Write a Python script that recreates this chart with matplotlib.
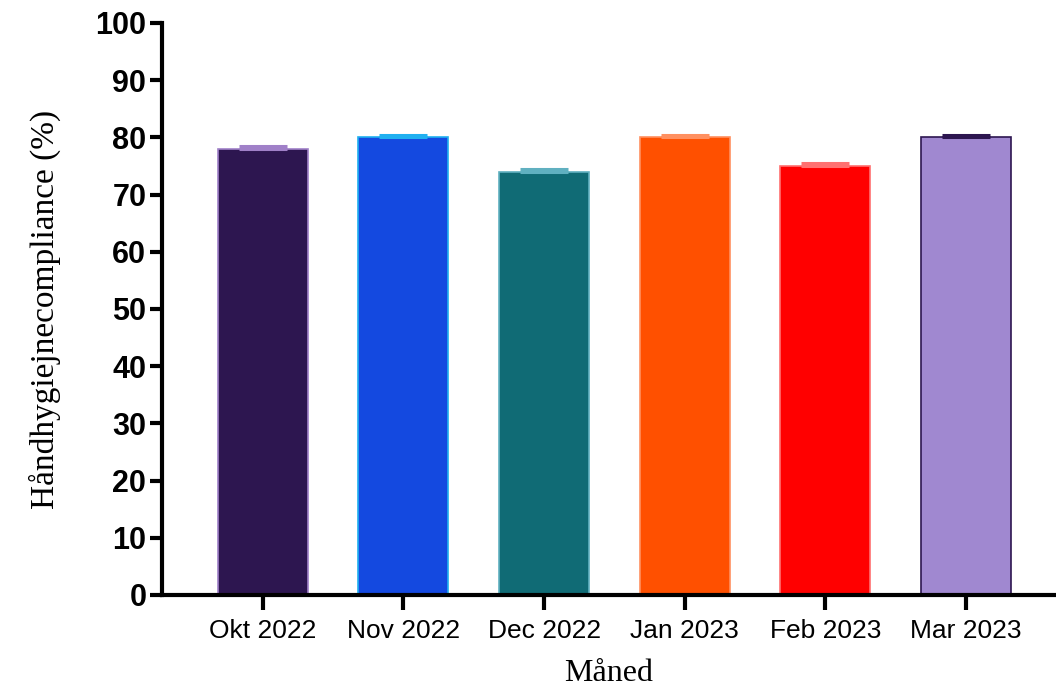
import matplotlib.pyplot as plt
import numpy as np

# Data
maaneder = ["Okt 2022", "Nov 2022", "Dec 2022", "Jan 2023", "Feb 2023", "Mar 2023"]
compliance = [78, 80, 74, 80, 75, 80]
fejl = [0.5, 0.5, 0.5, 0.5, 0.5, 0.5]
farver = ["#2d1650", "#1449e0", "#106b75", "#ff5000", "#ff0000", "#a088d0"]
kantfarver = ["#a080c8", "#20b0f0", "#60b0c0", "#ff9060", "#ff7070", "#2d1650"]

fig = plt.figure(figsize=(10.56, 6.9), dpi=100)
ax = fig.add_axes([0.153, 0.1377, 0.847, 0.829])

x = np.arange(len(maaneder))
ax.bar(x, compliance, width=0.64, color=farver, edgecolor=kantfarver, linewidth=1.2, zorder=2)

# Små fejlbjælker ovenpå søjlerne
for xi, v, e, k in zip(x, compliance, fejl, kantfarver):
    ax.errorbar(xi, v, yerr=[[0], [e]], fmt="none", ecolor=k, elinewidth=1.5,
                capsize=17.5, capthick=2.2, zorder=3)

ax.set_xlim(-0.72, 5.64)
ax.set_ylim(0, 100)
ax.set_yticks(range(0, 101, 10))
ax.set_xticks(x)
ax.set_xticklabels(maaneder, fontfamily="Liberation Sans", fontsize=19)
for lbl in ax.get_yticklabels():
    lbl.set_fontfamily("Liberation Sans")
    lbl.set_fontweight("bold")
    lbl.set_fontsize(22)

for s in ["top", "right"]:
    ax.spines[s].set_visible(False)
for s in ["left", "bottom"]:
    ax.spines[s].set_linewidth(3)
ax.tick_params(axis="y", length=9, width=3, pad=2)
ax.tick_params(axis="x", length=11, width=3, pad=6)

ax.set_ylabel("Håndhygiejnecompliance (%)", fontfamily="Liberation Serif", fontsize=24, labelpad=25)
ax.set_xlabel("Måned", fontfamily="Liberation Serif", fontsize=23, labelpad=12)

fig.savefig("out.png", dpi=100)
